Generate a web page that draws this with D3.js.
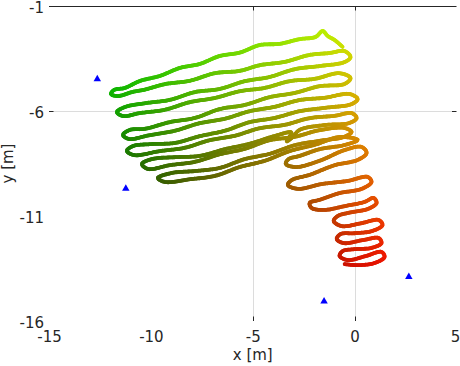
<!DOCTYPE html>
<html><head><meta charset="utf-8">
<script src="https://cdn.jsdelivr.net/npm/d3@7"></script>
<style>
body{margin:0;background:#fff}
svg{display:block}
text{font-family:"DejaVu Sans",sans-serif;fill:#262626}
</style>
</head><body><svg id="c" width="460" height="366"></svg>
<script>
// trajectory (x [m], y [m])
const trackX = [-0.59,-0.98,-1.32,-1.57,-1.91,-2.70,-3.68,-4.66,-5.64,-6.62,-7.60,-8.58,-9.56,-10.54,-11.27,-11.81,
 -11.96,
 -11.62,-10.93,-10.29,-9.31,-8.09,-6.86,-5.64,-4.66,-3.43,-2.21,-1.23,-0.49,
 -0.20,
 -0.49,-1.72,-2.94,-4.17,-5.39,-6.62,-7.84,-9.07,-10.29,-11.27,
 -11.67,
 -11.37,-10.54,-9.31,-8.09,-6.86,-5.64,-4.41,-3.19,-1.96,-0.74,
 -0.20,
 -0.49,-1.72,-2.94,-4.17,-5.39,-6.62,-7.84,-9.07,-10.29,-11.03,
 -11.37,
 -11.08,-10.05,-8.82,-7.60,-6.37,-5.15,-3.92,-2.70,-1.47,-0.25,
 0.15,
 -0.15,-1.47,-2.70,-3.92,-5.15,-6.37,-7.60,-8.82,-10.05,-10.88,
 -11.18,
 -10.83,-9.56,-8.33,-7.11,-5.88,-4.66,-3.43,-2.21,-0.98,-0.15,
 0.10,
 -0.25,-1.47,-2.70,-3.05,-3.35,-3.10,-3.92,-5.15,-6.37,-7.60,-8.82,-9.95,
 -10.44,
 -10.15,-9.07,-7.84,-6.62,-5.39,-4.17,-2.94,-1.72,-0.49,
 -0.15,
 -0.54,-1.72,-2.94,-4.17,-5.39,-6.62,-7.84,-8.97,
 -9.66,
 -9.31,-8.09,-6.86,-5.64,-4.41,-3.19,-1.96,-0.74,
 0.15,
 -0.49,-1.72,-2.70,-3.24,
 -3.38,
 -2.89,-1.72,-0.49,0.34,
 0.59,
 0.15,-0.98,-2.21,-3.09,
 -3.28,
 -2.79,-1.62,-0.34,0.64,
 0.83,
 0.34,-0.74,-1.72,-2.21,
 -2.11,
 -1.47,-0.49,0.49,0.93,
 1.08,
 0.64,-0.15,-0.83,
 -1.03,
 -0.64,0.34,1.18,
 1.37,
 0.88,0.00,-0.69,
 -0.88,
 -0.54,0.39,1.18,
 1.32,
 0.83,0.00,-0.59,
 -0.74,
 -0.34,0.54,1.32,
 1.47,
 0.98,0.15,-0.49];
const trackY = [-2.95,-2.62,-2.43,-2.19,-2.47,-2.58,-2.80,-2.86,-3.22,-3.38,-3.76,-3.95,-4.33,-4.57,-4.90,-5.00,
 -5.19,
 -5.29,-5.10,-4.98,-4.72,-4.56,-4.20,-4.09,-3.82,-3.66,-3.33,-3.24,-3.15,
 -3.43,
 -3.67,-3.86,-4.01,-4.38,-4.58,-4.95,-5.10,-5.47,-5.63,-5.81,
 -6.05,
 -6.24,-6.10,-5.94,-5.58,-5.38,-5.06,-4.90,-4.58,-4.47,-4.20,
 -4.43,
 -4.71,-4.82,-5.14,-5.34,-5.71,-5.91,-6.33,-6.53,-6.85,-6.90,
 -7.14,
 -7.33,-7.15,-6.94,-6.58,-6.37,-6.01,-5.80,-5.48,-5.37,-5.19,
 -5.43,
 -5.67,-5.85,-6.01,-6.33,-6.53,-6.94,-7.20,-7.52,-7.58,-7.67,
 -7.90,
 -8.10,-7.91,-7.75,-7.39,-7.18,-6.82,-6.66,-6.34,-6.23,-6.10,
 -6.33,
 -6.57,-6.67,-6.90,-7.25,-7.45,-7.02,-7.19,-7.56,-7.82,-8.14,-8.20,-8.29,
 -8.52,
 -8.76,-8.58,-8.42,-8.06,-7.80,-7.39,-7.23,-6.91,-6.81,
 -7.00,
 -7.24,-7.42,-7.63,-8.04,-8.29,-8.71,-8.86,-8.95,
 -9.19,
 -9.38,-9.25,-9.09,-8.67,-8.37,-7.91,-7.61,-7.24,
 -7.38,
 -7.62,-7.82,-8.14,-8.29,
 -8.52,
 -8.67,-8.37,-7.86,-7.71,
 -8.00,
 -8.33,-8.58,-9.04,-9.29,
 -9.52,
 -9.71,-9.48,-9.33,-9.14,
 -9.38,
 -9.71,-9.91,-10.23,-10.38,
 -10.62,
 -10.71,-10.53,-10.33,-10.14,
 -10.38,
 -10.67,-10.82,-11.00,
 -11.24,
 -11.48,-11.34,-11.19,
 -11.43,
 -11.71,-11.82,-11.86,
 -12.10,
 -12.29,-12.15,-12.05,
 -12.29,
 -12.52,-12.58,-12.67,
 -12.90,
 -13.10,-12.91,-12.71,
 -12.95,
 -13.24,-13.34,-13.29];

// anchors (blue triangles)
const anchorX = [-12.63, -11.23, -1.50, 2.66];
const anchorY = [-4.48, -9.69, -15.06, -13.90];

const xTicks = [-15, -10, -5, 0, 5];
const yTicks = [-1, -6, -11, -16];
const xGrid = [-5, 0];
const yGrid = [-6];

const svg = d3.select("#c");
const x = d3.scaleLinear().domain([-15, 5]).range([49, 456.5]);
const y = d3.scaleLinear().domain([-16, -1]).range([321, 6]);

// colour by position: red from x, green from y
const rS = d3.scaleLinear().domain([-12, 1.5]).range([0.05, 0.93]).clamp(true);
const gS = d3.scaleLinear().domain([-13.3, -2.2]).range([0.07, 0.93]).clamp(true);

// grid
svg.append("g").selectAll("line").data(xGrid).join("line")
  .attr("x1", d => Math.round(x(d)) + 0.5).attr("x2", d => Math.round(x(d)) + 0.5)
  .attr("y1", y(-1)).attr("y2", y(-16))
  .attr("stroke", "#dcdcdc").attr("stroke-width", 1);
svg.append("g").selectAll("line").data(yGrid).join("line")
  .attr("y1", d => Math.round(y(d)) + 0.5).attr("y2", d => Math.round(y(d)) + 0.5)
  .attr("x1", x(-15) + 4).attr("x2", x(5) - 4)
  .attr("stroke", "#dcdcdc").attr("stroke-width", 1);

// top box line
svg.append("line").attr("x1", x(-15)).attr("x2", x(5))
  .attr("y1", Math.round(y(-1)) + 0.5).attr("y2", Math.round(y(-1)) + 0.5)
  .attr("stroke", "#262626").attr("stroke-width", 1.2);

// tick marks (only where grid lines are)
const tk = svg.append("g").attr("stroke", "#262626").attr("stroke-width", 1);
xGrid.forEach(d => {
  const px = Math.round(x(d)) + 0.5;
  tk.append("line").attr("x1", px).attr("x2", px).attr("y1", y(-1)).attr("y2", y(-1) + 4.5);
  tk.append("line").attr("x1", px).attr("x2", px).attr("y1", y(-16)).attr("y2", y(-16) - 4.5);
});
yGrid.forEach(d => {
  const py = Math.round(y(d)) + 0.5;
  tk.append("line").attr("y1", py).attr("y2", py).attr("x1", x(-15)).attr("x2", x(-15) + 4.5);
  tk.append("line").attr("y1", py).attr("y2", py).attr("x1", x(5)).attr("x2", x(5) - 4.5);
});

// axis labels via d3 axes
const ax = svg.append("g").attr("transform", `translate(0,${y(-16)})`)
  .call(d3.axisBottom(x).tickValues(xTicks).tickSize(0).tickPadding(10).tickFormat(d => String(d)));
const ay = svg.append("g").attr("transform", `translate(${x(-15)},0)`)
  .call(d3.axisLeft(y).tickValues(yTicks).tickSize(0).tickPadding(5).tickFormat(d => String(d)));
[ax, ay].forEach(g => {
  g.select(".domain").remove();
  g.selectAll("text").attr("font-size", 15).attr("font-family", "DejaVu Sans").attr("fill", "#262626");
});
ay.selectAll("text").attr("dy", "0.42em");
ax.selectAll(".tick").filter(d => d === 5).select("text").attr("dx", -1.5);

svg.append("text").attr("x", (x(-15) + x(5)) / 2).attr("y", 360)
  .attr("text-anchor", "middle").attr("font-size", 15).text("x [m]");
svg.append("text").attr("transform", `translate(13,${(y(-1) + y(-16)) / 2}) rotate(-90)`)
  .attr("text-anchor", "middle").attr("font-size", 15).text("y [m]");

// trajectory
const pts = trackX.map((v, i) => [v, trackY[i]]);
const line = d3.line().x(d => x(d[0])).y(d => y(d[1])).curve(d3.curveCatmullRom.alpha(0.5));
const tmp = svg.append("path").attr("d", line(pts)).attr("fill", "none").attr("stroke", "none");
const node = tmp.node();
const L = node.getTotalLength();
const step = 1.5;
const samples = [];
for (let s = 0; s <= L; s += step) samples.push(node.getPointAtLength(s));
samples.push(node.getPointAtLength(L));
tmp.remove();
const tg = svg.append("g").attr("stroke-width", 3.8).attr("stroke-linecap", "round").attr("fill", "none");
for (let i = 0; i < samples.length - 1; i++) {
  const a = samples[i], b = samples[i + 1];
  const mx = x.invert((a.x + b.x) / 2), my = y.invert((a.y + b.y) / 2);
  const c = d3.rgb(rS(mx) * 255, gS(my) * 255, 0);
  tg.append("line").attr("x1", a.x).attr("y1", a.y).attr("x2", b.x).attr("y2", b.y).attr("stroke", c);
}

// anchors
svg.append("g").selectAll("path").data(anchorX.map((v, i) => [v, anchorY[i]])).join("path")
  .attr("transform", d => `translate(${x(d[0])},${y(d[1])})`)
  .attr("d", d3.symbol(d3.symbolTriangle, 24))
  .attr("fill", "#0000ff");
</script>
</body></html>
